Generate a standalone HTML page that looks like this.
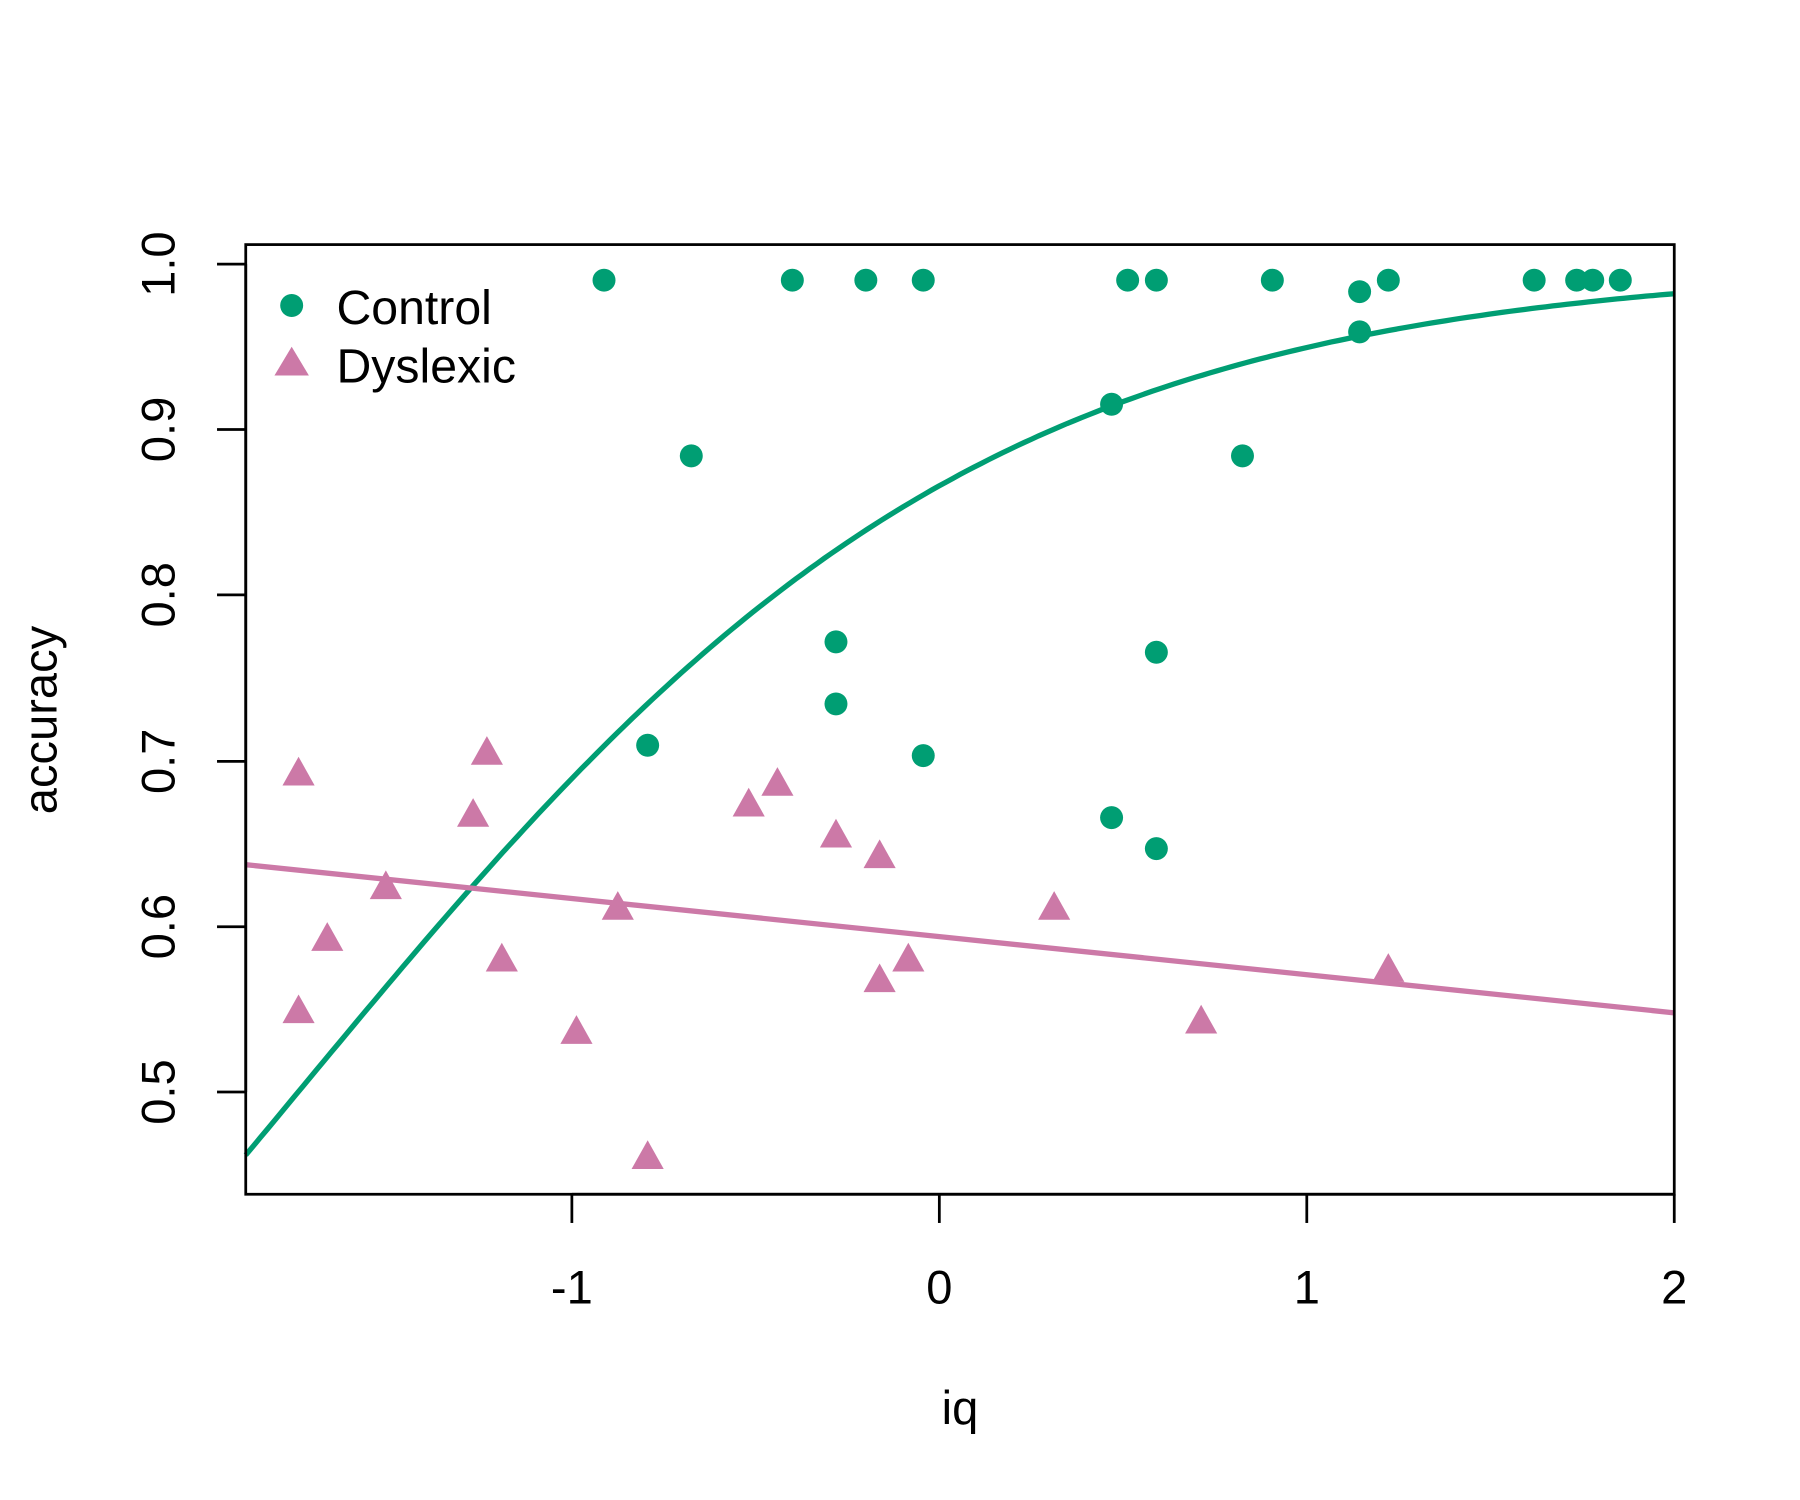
<!DOCTYPE html>
<html><head><meta charset="utf-8"><style>
html,body{margin:0;padding:0;background:#fff;}
svg{display:block;}
text{font-family:"Liberation Sans",Arial,sans-serif;fill:#000;}
</style></head><body>
<svg id="s" width="1800" height="1500" viewBox="0 0 1567.5 1306.25" xmlns="http://www.w3.org/2000/svg">
<rect x="0" y="0" width="1567.5" height="1306.25" fill="#fff"/>
<g id="pts"></g>
<path id="gc" fill="none" stroke="#009E73" stroke-width="4.6"/>
<line x1="214" y1="753" x2="1458" y2="882" stroke="#CC79A7" stroke-width="4.6"/>
<rect x="214" y="213" width="1244" height="827" fill="none" stroke="#000" stroke-width="2.4"/>
<g stroke="#000" stroke-width="2.4">
<line x1="498" y1="1040" x2="1458" y2="1040"/>
<line x1="498" y1="1040" x2="498" y2="1065"/>
<line x1="818" y1="1040" x2="818" y2="1065"/>
<line x1="1138" y1="1040" x2="1138" y2="1065"/>
<line x1="1458" y1="1040" x2="1458" y2="1065"/>
<line x1="214" y1="230" x2="214" y2="951"/>
<line x1="214" y1="230" x2="189" y2="230"/>
<line x1="214" y1="374" x2="189" y2="374"/>
<line x1="214" y1="518" x2="189" y2="518"/>
<line x1="214" y1="663" x2="189" y2="663"/>
<line x1="214" y1="807" x2="189" y2="807"/>
<line x1="214" y1="951" x2="189" y2="951"/>
</g>
<g font-size="41" text-anchor="middle">
<text x="498" y="1135">-1</text>
<text x="818" y="1135">0</text>
<text x="1138" y="1135">1</text>
<text x="1458" y="1135">2</text>
<text x="836" y="1240">iq</text>
<text transform="translate(152,230) rotate(-90)">1.0</text>
<text transform="translate(152,374) rotate(-90)">0.9</text>
<text transform="translate(152,518) rotate(-90)">0.8</text>
<text transform="translate(152,663) rotate(-90)">0.7</text>
<text transform="translate(152,807) rotate(-90)">0.6</text>
<text transform="translate(152,951) rotate(-90)">0.5</text>
<text transform="translate(49,627) rotate(-90)">accuracy</text>
</g>
<circle cx="254" cy="266" r="10" fill="#009E73"/>
<polygon points="254,302 269,327 239,327" fill="#CC79A7"/>
<text x="293" y="282" font-size="42">Control</text>
<text x="293" y="333" font-size="42">Dyslexic</text>
</svg>
<script>
var ns="http://www.w3.org/2000/svg",g=document.getElementById("pts");
var C=[[526,244],[690,244],[754,244],[804,244],[982,244],[1007,244],[1108,244],[1184,254],[1209,244],[1336,244],[1373,244],[1387,244],[1411,244],[1184,289],[968,352],[602,397],[1082,397],[728,559],[1007,568],[728,613],[564,649],[804,658],[968,712],[1007,739]];
var D=[[260,674],[424,656],[412,710],[652,701],[677,683],[728,728],[766,746],[336,773],[285,818],[538,791],[437,836],[260,881],[766,854],[791,836],[918,791],[502,899],[1046,890],[1209,845],[564,1008]];
C.forEach(function(p){var c=document.createElementNS(ns,"circle");c.setAttribute("cx",p[0]);c.setAttribute("cy",p[1]);c.setAttribute("r",10);c.setAttribute("fill","#009E73");g.appendChild(c);});
D.forEach(function(p){var t=document.createElementNS(ns,"polygon");var x=p[0],y=p[1];t.setAttribute("points",x+","+(y-15)+" "+(x+14)+","+(y+10)+" "+(x-14)+","+(y+10));t.setAttribute("fill","#CC79A7");g.appendChild(t);});
var d="";for(var i=0;i<=200;i++){var px=214+i*(1244/200);var x=(px-818)/320;var v=1/(1+Math.exp(-(1.867+1.07*x)));var py=230+(1-v)*1442;d+=(i?"L":"M")+px.toFixed(1)+","+py.toFixed(1);}
document.getElementById("gc").setAttribute("d",d);
</script>
</body></html>
